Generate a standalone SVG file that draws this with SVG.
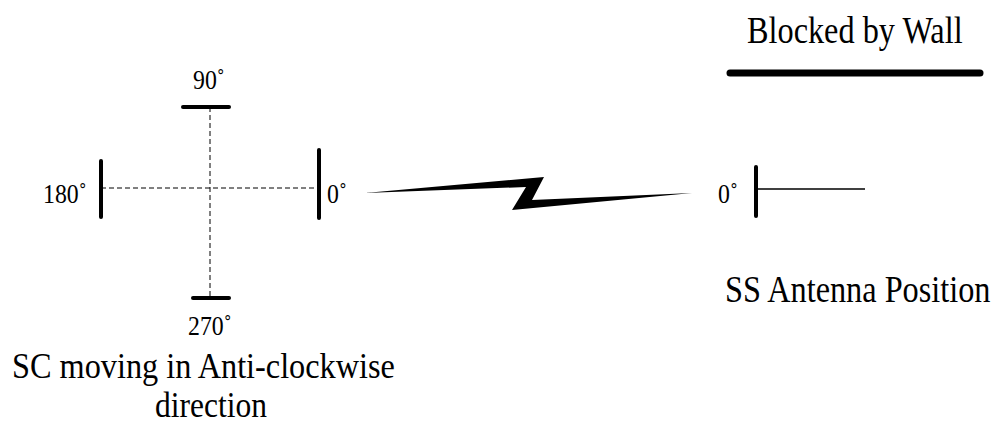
<svg xmlns="http://www.w3.org/2000/svg" width="999" height="425" viewBox="0 0 999 425">
<style>
.bar{stroke:#000;stroke-width:4;stroke-linecap:round;fill:none}
.dash{stroke:#000;stroke-width:1;stroke-dasharray:5 3;fill:none}
.thin{stroke:#000;stroke-width:1.3;fill:none}
text{font-family:'Liberation Serif','Times New Roman',serif;fill:#000}
.lbl{font-size:28px}
.big{font-size:38px}
.cap{font-size:35px}
</style>
<rect width="999" height="425" fill="#fff"/>
<g id="connectors">
<line class="dash" x1="210" y1="107" x2="210" y2="298"/>
<line class="dash" x1="101" y1="188" x2="319" y2="188"/>
<polygon id="wireless-link" points="365,193 544,177 532,200 692,193 512,210 526,187" fill="#000"/>
</g>
<g id="sc-90">
<line class="bar" x1="183" y1="107" x2="229" y2="107"/>
<text class="lbl" transform="translate(193,89) scale(0.85,1)">90˚</text>
</g>
<g id="sc-270">
<line class="bar" x1="193" y1="298" x2="229" y2="298"/>
<text class="lbl" transform="translate(188,335) scale(0.85,1)">270˚</text>
</g>
<g id="sc-180">
<line class="bar" x1="101" y1="161" x2="101" y2="217"/>
<text class="lbl" transform="translate(43,203) scale(0.85,1)">180˚</text>
</g>
<g id="sc-0">
<line class="bar" x1="319" y1="150" x2="319" y2="218"/>
<text class="lbl" transform="translate(327,203) scale(0.85,1)">0˚</text>
</g>
<g id="sc-caption">
<text class="cap" transform="translate(12,378) scale(0.923,1)">SC moving in Anti-clockwise</text>
<text class="cap" transform="translate(155,417) scale(0.9,1)">direction</text>
</g>
<g id="wall">
<text class="big" transform="translate(747,43) scale(0.85,1)">Blocked by Wall</text>
<line x1="730" y1="73" x2="980" y2="73" stroke="#000" stroke-width="7" stroke-linecap="round"/>
</g>
<g id="ss-antenna">
<line class="bar" x1="756" y1="167" x2="756" y2="216"/>
<line class="thin" x1="756" y1="189" x2="865" y2="189"/>
<text class="lbl" transform="translate(718,203) scale(0.85,1)">0˚</text>
<text class="big" transform="translate(725,302) scale(0.85,1)">SS Antenna Position</text>
</g>
</svg>
